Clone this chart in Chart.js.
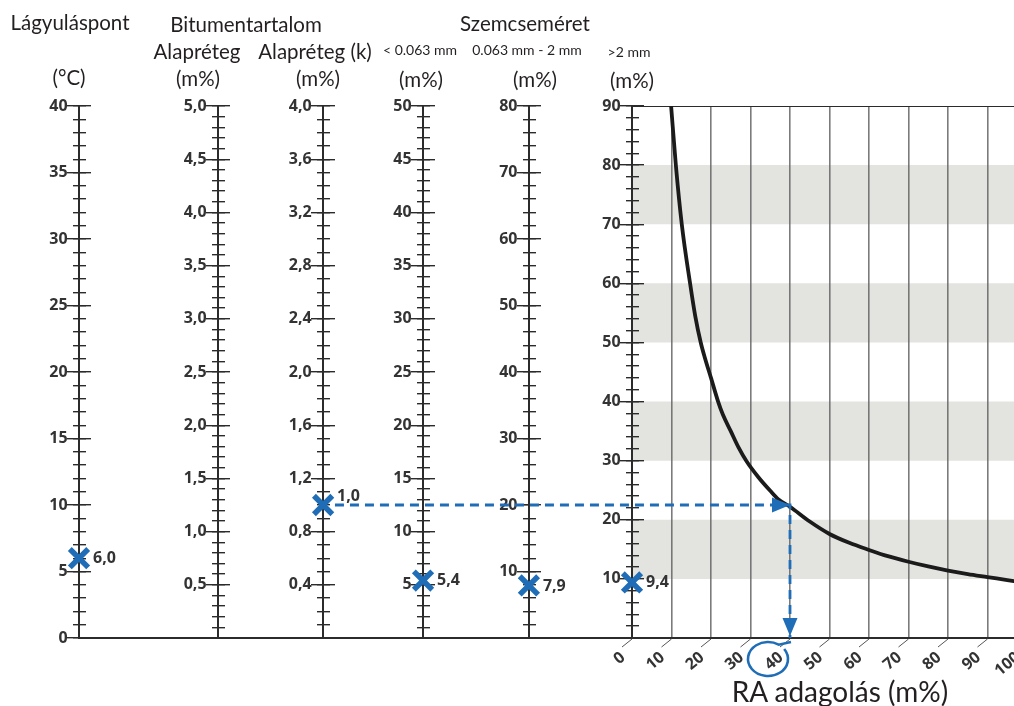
<!DOCTYPE html>
<html><head><meta charset="utf-8">
<script src="https://cdn.jsdelivr.net/npm/chart.js@4.4.1/dist/chart.umd.min.js"></script>
<style>
html,body{margin:0;padding:0;overflow:hidden;background:#fff;width:1014px;height:706px}
#wrap{position:relative;width:1060px;height:706px}
#c{position:absolute;left:0;top:0}
.h{position:absolute;transform:translate(-50%,-50%);white-space:nowrap;font-family:Lato,"Open Sans",sans-serif;color:#231f20;font-size:20.5px;line-height:1}
.s{font-size:14px}
.t{font-size:28px}
</style></head><body>
<div id="wrap">
<canvas id="c" width="1060" height="706"></canvas>
<div class="h" style="left:70px;top:22px">Lágyuláspont</div>
<div class="h" style="left:246px;top:24px">Bitumentartalom</div>
<div class="h" style="left:197px;top:51px">Alapréteg</div>
<div class="h" style="left:315px;top:51px">Alapréteg (k)</div>
<div class="h" style="left:69px;top:77px">(°C)</div>
<div class="h" style="left:198px;top:78px">(m%)</div>
<div class="h" style="left:318px;top:78px">(m%)</div>
<div class="h" style="left:525px;top:23px">Szemcseméret</div>
<div class="h s" style="left:420px;top:50px">&lt; 0.063 mm</div>
<div class="h s" style="left:527px;top:50px">0.063 mm - 2 mm</div>
<div class="h s" style="left:629px;top:52px">&gt;2 mm</div>
<div class="h" style="left:421px;top:79px">(m%)</div>
<div class="h" style="left:535px;top:79px">(m%)</div>
<div class="h" style="left:632px;top:80px">(m%)</div>
<div class="h t" style="left:840px;top:691px">RA adagolás (m%)</div>
</div>
<script>
// ---- data ----
const raTicks = [0,10,20,30,40,50,60,70,80,90,100];
const softLabels = ['0','5','10','15','20','25','30','35','40'];
const bitLabels = ['0,5','1,0','1,5','2,0','2,5','3,0','3,5','4,0','4,5','5,0'];
const bitKLabels = ['0,4','0,8','1,2','1,6','2,0','2,4','2,8','3,2','3,6','4,0'];
const fineLabels = ['5','10','15','20','25','30','35','40','45','50'];
const midLabels = ['10','20','30','40','50','60','70','80'];
const coarseLabels = ['10','20','30','40','50','60','70','80','90'];
const markerValues = [6.0, 1.0, 5.4, 7.9, 9.4];
const raValues    = [9.9, 11.1, 12.6, 14.7, 16, 17.4, 18.5, 20, 21.8, 23, 25, 27, 29, 32, 35, 37, 40, 45, 50, 55, 60, 65, 70, 75, 80, 85, 90, 95, 100];
const curveValues = [90, 80, 70, 60, 54.5, 50, 47.3, 44, 40, 37.8, 35, 32.2, 29.9, 27.2, 24.9, 23.5, 22.2, 19.7, 17.6, 16.1, 14.9, 13.8, 12.9, 12.1, 11.4, 10.8, 10.3, 9.8, 9.3];
const bandLows  = [10, 30, 50, 70];
const bandHighs = [20, 40, 60, 80];
const guideValue = 1.0;   // on Alapréteg (k) axis
const resultRA = 40;

// ---- layout / style ----
const AX = [
  {id:'ySoft',   pos:-140,   max:40, minor:1,   labels:softLabels},
  {id:'yBit',    pos:-104.8, max:5,  minor:0.1, labels:bitLabels},
  {id:'yBitK',   pos:-78.2,  max:4,  minor:0.1, labels:bitKLabels},
  {id:'yFine',   pos:-52.9,  max:50, minor:1,   labels:fineLabels},
  {id:'yMid',    pos:-26.1,  max:80, minor:2,   labels:midLabels},
  {id:'yCoarse', pos:0,      max:90, minor:2,   labels:coarseLabels}
];
const markerAxisIds = ['ySoft','yBitK','yFine','yMid','yCoarse'];
const markerLabelDy = [0, -9, 0, 1, 0];
const BLUE = '#1f6db7', INK = '#2b2b2b', LBL = '#333333';
const tickFont = {family:'"Open Sans"', size:16, weight:'700'};
const LABEL_GAP = 2.9; // x-units between axis line and tick labels

const num = s => parseFloat(s.replace(',', '.'));
const labelFor = (ax, v) => { for (const l of ax.labels) if (Math.abs(num(l) - v) < 1e-6) return l; return ''; };
const ticksFor = ax => { const n = Math.round(ax.max / ax.minor); const a = []; for (let i = 0; i <= n; i++) a.push(+(i * ax.minor).toFixed(4)); return a; };
const axById = id => AX.find(a => a.id === id);

function yScale(ax, pos, tl, majorOnly, withLabels, border) {
  return {
    type:'linear', axis:'y', position:{x: pos}, min:0, max:ax.max,
    afterBuildTicks: s => { s.ticks = ticksFor(ax).map(v => ({value:v})); },
    grid: {
      display: !withLabels, drawOnChartArea:false, drawTicks: !withLabels, tickLength: tl, lineWidth: 1.4,
      color: c => (!c.tick || (majorOnly && labelFor(ax, c.tick.value) === '')) ? 'rgba(0,0,0,0)' : INK
    },
    border: {display: border, color: INK, width: 2},
    ticks: {display: withLabels, padding: 0, autoSkip:false, font: tickFont, color: LBL,
      callback: v => labelFor(ax, v)}
  };
}

const scales = {
  x: {
    type:'linear', min:-140, max:100,
    afterBuildTicks: s => { s.ticks = raTicks.map(v => ({value:v})); },
    afterFit: s => { s.height = 68; },
    grid: {drawOnChartArea:true, drawTicks:true, tickLength:8, tickColor:'rgba(0,0,0,0)', lineWidth:1.6,
      color: c => (c.tick && c.tick.value > 0) ? 'rgba(100,100,100,0.85)' : 'rgba(0,0,0,0)'},
    border: {display:true, color: INK, width:2},
    ticks: {autoSkip:false, minRotation:40, maxRotation:40, padding:2, labelOffset:-9, font: tickFont, color: LBL,
      callback: v => String(v)}
  }
};
AX.forEach(ax => {
  scales[ax.id]        = yScale(ax, ax.pos, 11, true, false, true);
  scales[ax.id + 'Lm'] = yScale(ax, ax.pos, 6, false, false, false);
  scales[ax.id + 'RM'] = yScale(ax, ax.pos, -12, true, false, false);
  scales[ax.id + 'Rm'] = yScale(ax, ax.pos, -7, false, false, false);
  scales[ax.id + 'Lbl']= yScale(ax, ax.pos - LABEL_GAP, 0, true, true, false);
});

const datasets = [];
markerValues.forEach((v, i) => {
  const ax = axById(markerAxisIds[i]);
  datasets.push({label:'m' + i, yAxisID: ax.id, data:[{x: ax.pos, y: v}], showLine:false, clip:false,
    pointStyle:'crossRot', pointRadius:13, pointBorderWidth:5.5, pointBorderColor: BLUE, pointBackgroundColor: BLUE});
});
const guideIdx = datasets.length;
const bitK = axById('yBitK');
datasets.push({label:'guide', yAxisID:'yBitK',
  data:[{x: bitK.pos + 3, y: guideValue}, {x: resultRA, y: guideValue}, {x: resultRA, y: 0}],
  borderColor: BLUE, borderWidth:2.8, borderDash:[9,6], pointRadius:0, tension:0});
datasets.push({label:'curve', yAxisID:'yCoarse',
  data: raValues.map((x, i) => ({x, y: curveValues[i]})),
  borderColor:'#1b1b1b', borderWidth:3.8, pointRadius:0, cubicInterpolationMode:'monotone'});
datasets.push({label:'frame', yAxisID:'yCoarse',
  data:[{x: raTicks[0], y: axById('yCoarse').max}, {x: raTicks[raTicks.length - 1], y: axById('yCoarse').max}],
  borderColor: INK, borderWidth:2, pointRadius:0});
bandLows.forEach((lo, i) => {
  datasets.push({label:'band' + i, yAxisID:'yCoarse',
    data:[{x: raTicks[0], y: bandHighs[i]}, {x: raTicks[raTicks.length - 1], y: bandHighs[i]}],
    borderWidth:0, pointRadius:0, fill:{value: lo}, backgroundColor:'#e3e4e0'});
});

const annot = {
  id:'annot',
  afterDatasetsDraw(chart) {
    const ctx = chart.ctx;
    const pts = chart.getDatasetMeta(guideIdx).data;
    const arrow = (a, b) => {
      const ang = Math.atan2(b.y - a.y, b.x - a.x), L = 18, W = 7.5;
      ctx.save(); ctx.translate(b.x, b.y); ctx.rotate(ang);
      ctx.beginPath(); ctx.moveTo(0, 0); ctx.lineTo(-L, -W); ctx.lineTo(-L, W); ctx.closePath();
      ctx.fillStyle = BLUE; ctx.fill(); ctx.restore();
    };
    arrow(pts[0], pts[1]);
    arrow(pts[1], {x: pts[2].x, y: pts[2].y - 2});
    ctx.save();
    ctx.font = '700 16px "Open Sans"'; ctx.fillStyle = LBL; ctx.textBaseline = 'middle'; ctx.textAlign = 'left';
    markerValues.forEach((v, i) => {
      const p = chart.getDatasetMeta(i).data[0];
      ctx.fillText(v.toFixed(1).replace('.', ','), p.x + 14, p.y + markerLabelDy[i]);
    });
    ctx.restore();
  },
  afterDraw(chart) {
    const ctx = chart.ctx, xs = chart.scales.x, bottom = chart.chartArea.bottom;
    ctx.save();
    ctx.strokeStyle = '#555'; ctx.lineWidth = 1;
    xs.ticks.forEach(t => {
      const px = xs.getPixelForValue(t.value);
      ctx.beginPath(); ctx.moveTo(px, bottom + 1); ctx.lineTo(px - 10, bottom + 9); ctx.stroke();
    });
    const px = xs.getPixelForValue(resultRA);
    ctx.strokeStyle = BLUE; ctx.lineWidth = 2.6;
    ctx.beginPath();
    ctx.ellipse(px - 22, bottom + 21, 20, 17, 0, -0.2 * Math.PI, 1.68 * Math.PI);
    ctx.lineTo(px + 1, bottom + 4);
    ctx.stroke();
    ctx.restore();
  }
};

new Chart(document.getElementById('c'), {
  type:'line',
  data:{datasets},
  options:{
    responsive:false, animation:false,
    layout:{padding:{left:79, right:33, top:106, bottom:0}},
    plugins:{legend:{display:false}, tooltip:{enabled:false}, filler:{drawTime:'beforeDraw'}},
    scales
  },
  plugins:[annot]
});
</script>
</body></html>
